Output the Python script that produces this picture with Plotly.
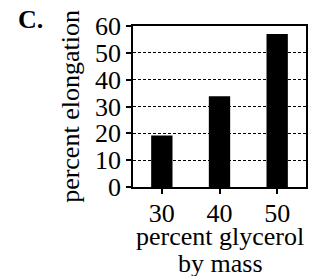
import plotly.graph_objects as go

categories = ["30", "40", "50"]
elongation = [19.2, 33.8, 57.0]
y_ticks = [0, 10, 20, 30, 40, 50, 60]

# page has an 8px body margin; work in figure coordinates
OFF = 8
W, H = 322 - OFF, 276 - OFF
L, R, T, B = 133 - OFF, 16, 26 - OFF, 89
ph = H - T - B
pw = W - L - R

def py(p):
    return (H - B - (p - OFF)) / ph

def px(p):
    return ((p - OFF) - L) / pw

font = dict(family="Liberation Serif, Times New Roman, serif", size=26, color="black")

fig = go.Figure(go.Bar(x=categories, y=elongation, marker=dict(color="black", line=dict(width=0))))

fig.update_layout(
    width=W, height=H,
    margin=dict(l=L, r=R, t=T, b=B, pad=0, autoexpand=False),
    paper_bgcolor="white", plot_bgcolor="white",
    bargap=0.63,
    showlegend=False,
    font=font,
)
fig.update_xaxes(
    type="category", automargin=False,
    showline=True, linecolor="black", linewidth=1.5, mirror=True,
    ticks="outside", ticklen=5, tickwidth=1.5, tickcolor="black",
    ticklabelstandoff=-3,
    showgrid=False, tickfont=font,
)
fig.update_yaxes(
    range=[0, 60], tickvals=y_ticks, automargin=False,
    showline=True, linecolor="black", linewidth=1.5, mirror=True,
    ticks="outside", ticklen=5, tickwidth=1.5, tickcolor="black",
    showgrid=True, gridcolor="black", gridwidth=1, griddash="3px,2px",
    zeroline=False, tickfont=font,
    title=dict(text="percent elongation", font=font, standoff=8),
)
fig.add_annotation(text="percent glycerol", xref="paper", yref="paper",
                   x=px(220), y=py(236), xanchor="center", yanchor="middle",
                   showarrow=False, font=font)
fig.add_annotation(text="by mass", xref="paper", yref="paper",
                   x=px(220), y=py(263), xanchor="center", yanchor="middle",
                   showarrow=False, font=font)
fig.add_annotation(text="<b>C.</b>", xref="paper", yref="paper",
                   x=px(30), y=py(19), xanchor="center", yanchor="middle",
                   showarrow=False, font=font)

fig.write_html("out.html")
